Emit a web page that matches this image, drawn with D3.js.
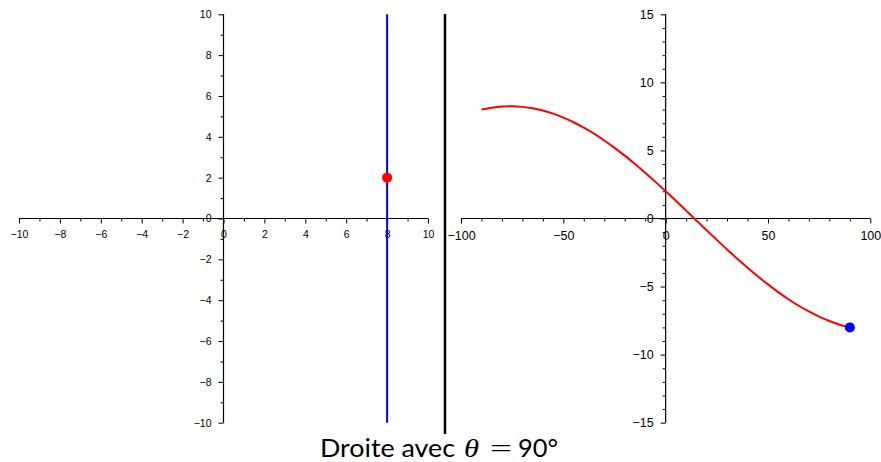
<!DOCTYPE html>
<html>
<head>
<meta charset="utf-8">
<script src="https://cdn.jsdelivr.net/npm/d3@7"></script>
<style>
  html, body { margin: 0; padding: 0; background: #fff; }
  svg { display: block; }
  .tick text { font-family: "Liberation Sans", Arial, sans-serif; fill: #000; }
</style>
</head>
<body>
<svg id="chart" width="881" height="462"></svg>
<script>
// Left panel: the line x = 8 in the image plane and the point it passes through
const lineX = [8];
const lineYRange = [-10, 10];
const pointXY = [[8, 2]];

// Right panel: Hough curve rho(theta) for that point, theta in degrees
const thetaDeg = [-90, -85, -80, -75, -70, -65, -60, -55, -50, -45, -40, -35, -30, -25, -20, -15, -10, -5,
                  0, 5, 10, 15, 20, 25, 30, 35, 40, 45, 50, 55, 60, 65, 70, 75, 80, 85, 90];
const rhoVals = [8.00, 8.14, 8.23, 8.25, 8.20, 8.10, 7.93, 7.70, 7.41, 7.07, 6.67, 6.23, 5.73, 5.19, 4.62, 4.00, 3.36, 2.69,
                 2.00, 1.30, 0.58, -0.14, -0.86, -1.57, -2.27, -2.95, -3.61, -4.24, -4.84, -5.41, -5.93, -6.41, -6.83, -7.21, -7.53, -7.80, -8.00];
const houghPoint = [[90, -8]];

// Tick labels
const leftMajor = [-10, -8, -6, -4, -2, 0, 2, 4, 6, 8, 10];
const rightXMajor = [-100, -50, 0, 50, 100];
const rightYMajor = [-15, -10, -5, 0, 5, 10, 15];
const titleText = ["Droite avec", "θ", "=", "90°"];

const svg = d3.select("#chart");

// scales
const xL = d3.scaleLinear().domain([-10, 10]).range([19, 428]);
const yL = d3.scaleLinear().domain([-10, 10]).range([422.7, 14.3]);
const xR = d3.scaleLinear().domain([-100, 100]).range([461, 870.3]);
const yR = d3.scaleLinear().domain([-15, 15]).range([422.7, 14.3]);

function drawAxes(x, y, xMajor, xMinor, yMajor, yMinor, fontSize) {
  const g = svg.append("g");
  const x0 = x(0), y0 = y(0);
  // minor ticks
  g.append("g").attr("transform", `translate(0,${y0})`)
    .call(d3.axisBottom(x).tickValues(xMinor).tickSize(3).tickFormat(""))
    .call(s => s.select(".domain").remove());
  g.append("g").attr("transform", `translate(${x0},0)`)
    .call(d3.axisLeft(y).tickValues(yMinor).tickSize(3).tickFormat(""))
    .call(s => s.select(".domain").remove());
  // major ticks with labels
  g.append("g").attr("transform", `translate(0,${y0})`)
    .call(d3.axisBottom(x).tickValues(xMajor).tickSize(5).tickPadding(7.5).tickFormat(d3.format("d")))
    .call(s => s.select(".domain").remove())
    .call(s => s.selectAll("text").attr("font-size", fontSize));
  g.append("g").attr("transform", `translate(${x0},0)`)
    .call(d3.axisLeft(y).tickValues(yMajor).tickSize(5).tickPadding(7).tickFormat(d3.format("d")))
    .call(s => s.select(".domain").remove())
    .call(s => s.selectAll("text").attr("font-size", fontSize));
  g.selectAll(".tick line").attr("stroke", "#000").attr("stroke-width", 1);
  // axis lines
  g.append("line").attr("x1", x.range()[0]).attr("x2", x.range()[1])
    .attr("y1", y0).attr("y2", y0).attr("stroke", "#000").attr("stroke-width", 1.2);
  g.append("line").attr("x1", x0).attr("x2", x0)
    .attr("y1", y.range()[0]).attr("y2", y.range()[1]).attr("stroke", "#000").attr("stroke-width", 1.2);
}

drawAxes(xL, yL, leftMajor, d3.range(-9, 10, 2), leftMajor, d3.range(-9, 10, 2), 10.5);
drawAxes(xR, yR, rightXMajor, d3.range(-90, 100, 10).filter(v => v % 50 !== 0),
         rightYMajor, d3.range(-14, 15, 1).filter(v => v % 5 !== 0), 12.5);

// left panel: vertical line and point
svg.selectAll(".vline").data(lineX).enter().append("line")
  .attr("x1", d => xL(d)).attr("x2", d => xL(d))
  .attr("y1", yL(lineYRange[0])).attr("y2", yL(lineYRange[1]))
  .attr("stroke", "#0000ff").attr("stroke-width", 2);
svg.selectAll(".pt").data(pointXY).enter().append("circle")
  .attr("cx", d => xL(d[0])).attr("cy", d => yL(d[1])).attr("r", 5)
  .attr("fill", "#ff0000");

// right panel: curve and point
const curve = d3.line().x(d => xR(d[0])).y(d => yR(d[1])).curve(d3.curveCatmullRom);
svg.append("path").datum(thetaDeg.map((t, i) => [t, rhoVals[i]]))
  .attr("d", curve).attr("fill", "none").attr("stroke", "#ff0000").attr("stroke-width", 2);
svg.selectAll(".hp").data(houghPoint).enter().append("circle")
  .attr("cx", d => xR(d[0])).attr("cy", d => yR(d[1])).attr("r", 5)
  .attr("fill", "#0000ff");

// divider between panels
svg.append("line").attr("x1", 445).attr("x2", 445).attr("y1", 14).attr("y2", 434)
  .attr("stroke", "#000").attr("stroke-width", 2.5);

// title, set piece by piece like a typeset formula
const title = svg.append("g").attr("font-size", 25).attr("fill", "#000");
const pieces = [
  { text: titleText[0], x: 320, w: 135, family: "Lato, 'DejaVu Sans', sans-serif", style: "normal" },
  { text: titleText[1], x: 464, w: 15, family: "'Liberation Serif', serif", style: "italic" },
  { text: titleText[2], x: 490, w: 22, family: "'Liberation Serif', serif", style: "normal" },
  { text: titleText[3], x: 518, w: 40, family: "Lato, 'DejaVu Sans', sans-serif", style: "normal" }
];
title.selectAll("text").data(pieces).enter().append("text")
  .attr("x", d => d.x).attr("y", 457)
  .attr("font-family", d => d.family).attr("font-style", d => d.style)
  .attr("textLength", d => d.w).attr("lengthAdjust", "spacingAndGlyphs")
  .text(d => d.text);
</script>
</body>
</html>
